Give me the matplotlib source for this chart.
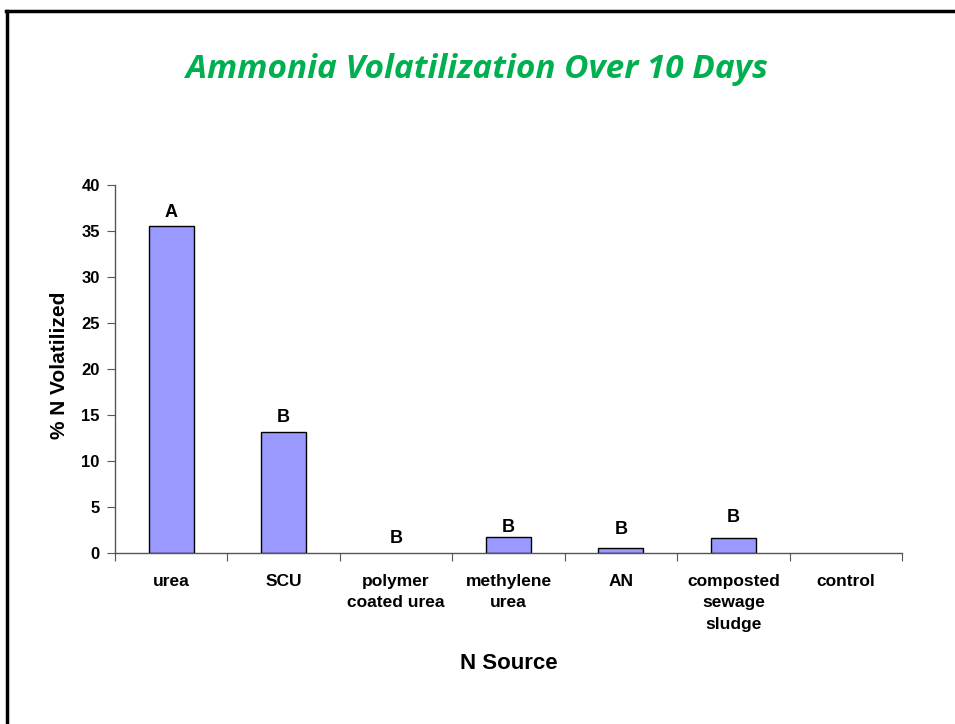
import matplotlib
matplotlib.use("Agg")
import matplotlib.pyplot as plt
from matplotlib.lines import Line2D

categories = ["urea", "SCU", "polymer\ncoated urea", "methylene\nurea", "AN",
              "composted\nsewage\nsludge", "control"]
values = [35.5, 13.2, 0.0, 1.75, 0.55, 1.65, 0.0]
letters = ["A", "B", "B", "B", "B", "B", ""]
letter_y = [37.0, 14.7, 1.6, 2.8, 2.6, 3.9, 0.0]
yticks = [0, 5, 10, 15, 20, 25, 30, 35, 40]

plt.rcParams['font.family'] = ['Liberation Sans', 'DejaVu Sans']

fig = plt.figure(figsize=(9.55, 7.24), dpi=100)
W, H = 955, 724
ax = fig.add_axes([115 / W, 1 - 553 / H, (902 - 115) / W, (553 - 185) / H])

x = list(range(len(categories)))
ax.bar(x, values, width=0.4, color="#9999FF", edgecolor="black",
       linewidth=[1.0 if v > 0 else 0 for v in values])
for xi, l, ly in zip(x, letters, letter_y):
    if l:
        ax.text(xi, ly, l, ha="center", va="center", fontsize=13, fontweight="bold")

ax.set_xlim(-0.5, len(categories) - 0.5)
ax.set_ylim(0, 40)
ax.set_yticks(yticks)
ax.set_yticklabels([str(v) for v in yticks], fontsize=12, fontweight="bold")
ax.set_xticks([i - 0.5 for i in range(len(categories) + 1)])
ax.set_xticklabels([])
ax.set_xticks(x, minor=True)
ax.set_xticklabels(categories, minor=True, fontsize=12.5, fontweight="bold", linespacing=1.55, va="top")
ax.tick_params(axis="x", which="minor", length=0, pad=15)
ax.tick_params(axis="x", which="major", direction="out", length=6, color="#555555")
ax.tick_params(axis="y", direction="out", length=6, color="#555555", pad=5)
for s in ["top", "right"]:
    ax.spines[s].set_visible(False)
for s in ["left", "bottom"]:
    ax.spines[s].set_color("#555555")
    ax.spines[s].set_linewidth(1.0)

ax.set_ylabel("% N Volatilized", fontsize=15, fontweight="bold", va="center")
ax.yaxis.set_label_coords(-0.07, 0.51)
ax.set_xlabel("N Source", fontsize=16, fontweight="bold", va="center")
ax.xaxis.set_label_coords(0.5, -0.3)

fig.text(477 / W, 1 - 70 / H, "Ammonia Volatilization Over 10 Days", ha="center", va="center",
         fontsize=24, fontweight="bold", fontstyle="italic", color="#00B050",
         family=["Open Sans", "DejaVu Sans"])

# slide frame
fig.add_artist(Line2D([6 / W, 1.0], [1 - 10.5 / H, 1 - 10.5 / H], color="black", linewidth=2.5,
                      transform=fig.transFigure))
fig.add_artist(Line2D([6.5 / W, 6.5 / W], [0, 1 - 10.5 / H], color="black", linewidth=2.5,
                      transform=fig.transFigure))

fig.savefig("out.png", dpi=100, facecolor="white")
